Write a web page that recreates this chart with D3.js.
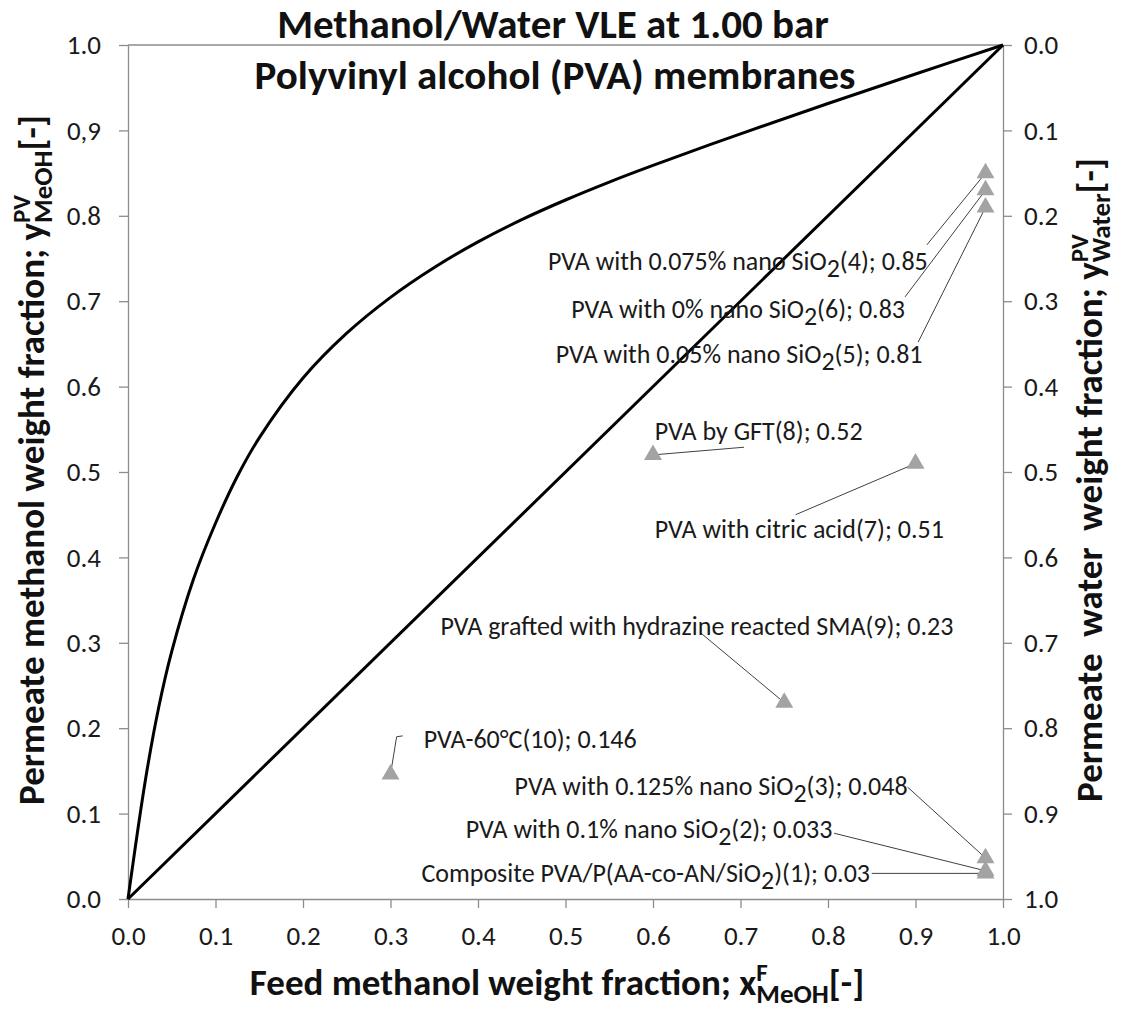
<!DOCTYPE html>
<html>
<head>
<meta charset="utf-8">
<script src="https://cdn.jsdelivr.net/npm/d3@7"></script>
<style>
  body { margin: 0; background: #fff; }
  svg { font-family: Carlito, Lato, sans-serif; }
</style>
</head>
<body>
<svg id="chart" width="1122" height="1014"></svg>
<script>
// VLE curve (weight fractions)
var vleX = [0, 0.02, 0.035, 0.05, 0.075, 0.1, 0.125, 0.15, 0.2, 0.25, 0.3, 0.35, 0.4, 0.45, 0.5, 0.55, 0.6, 0.7, 0.8, 0.9, 1.0];
var vleY = [0, 0.14, 0.224, 0.29, 0.375, 0.44, 0.495, 0.54, 0.61, 0.6625, 0.7045, 0.7395, 0.7695, 0.7955, 0.8185, 0.8395, 0.859, 0.896, 0.9315, 0.966, 1.0];

// membranes
var memNames = [
  "Composite PVA/P(AA-co-AN/SiO|2|)(1); 0.03",
  "PVA with 0.1% nano SiO|2|(2); 0.033",
  "PVA with 0.125% nano SiO|2|(3); 0.048",
  "PVA with 0.075% nano SiO|2|(4); 0.85",
  "PVA with 0.05% nano SiO|2|(5); 0.81",
  "PVA with 0% nano SiO|2|(6); 0.83",
  "PVA with citric acid(7); 0.51",
  "PVA by GFT(8); 0.52",
  "PVA grafted with hydrazine reacted SMA(9); 0.23",
  "PVA-60°C(10); 0.146"
];
var memX = [0.98, 0.98, 0.98, 0.98, 0.98, 0.98, 0.90, 0.60, 0.75, 0.30];
var memY = [0.03, 0.033, 0.048, 0.85, 0.81, 0.83, 0.51, 0.52, 0.23, 0.146];

// where each label sits (data units) and where its leader starts
var labAnchor = ["end", "end", "end", "end", "end", "end", "start", "start", "start", "start"];
var labX = [0.848, 0.805, 0.891, 0.914, 0.908, 0.888, 0.602, 0.602, 0.357, 0.338];
var labY = [0.02, 0.071, 0.122, 0.737, 0.628, 0.680, 0.423, 0.538, 0.309, 0.177];
var leadX = [0.850, 0.807, 0.891, 0.913, 0.903, 0.888, 0.763, 0.704, 0.654, 0.314];
var leadY = [0.03, 0.077, 0.131, 0.766, 0.652, 0.705, 0.450, 0.529, 0.312, 0.191];
// short elbow on the leader of label (10)
var bendX = [null, null, null, null, null, null, null, null, null, 0.307];
var bendY = [null, null, null, null, null, null, null, null, null, 0.190];

var tickVals = [0, 0.1, 0.2, 0.3, 0.4, 0.5, 0.6, 0.7, 0.8, 0.9, 1.0];
var leftTickLabels = ["0.0", "0.1", "0.2", "0.3", "0.4", "0.5", "0.6", "0.7", "0.8", "0,9", "1.0"];
var tickLabels = ["0.0", "0.1", "0.2", "0.3", "0.4", "0.5", "0.6", "0.7", "0.8", "0.9", "1.0"];

var svg = d3.select("#chart");
var plotL = 128, plotR = 1003, plotT = 45, plotB = 899;

var x = d3.scaleLinear().domain([0, 1]).range([plotL, plotR]);
var y = d3.scaleLinear().domain([0, 1]).range([plotB, plotT]);
var yR = d3.scaleLinear().domain([0, 1]).range([plotT, plotB]);

var axisCol = "#8c8c8c";

function styleAxis(g) {
  g.selectAll(".domain").attr("stroke", axisCol).attr("stroke-width", 1.3);
  g.selectAll(".tick line").attr("stroke", axisCol).attr("stroke-width", 1.3);
  g.selectAll(".tick text").attr("fill", "#1a1a1a").style("font-size", "27px")
    .style("font-family", "Carlito, Lato, sans-serif");
}

svg.append("g")
  .attr("transform", "translate(0," + plotB + ")")
  .call(d3.axisBottom(x).tickValues(tickVals).tickSize(9).tickSizeOuter(0).tickPadding(18)
    .tickFormat(function (d, i) { return tickLabels[i]; }))
  .call(styleAxis);

svg.append("g")
  .attr("transform", "translate(" + plotL + ",0)")
  .call(d3.axisLeft(y).tickValues(tickVals).tickSize(9).tickSizeOuter(0).tickPadding(18)
    .tickFormat(function (d, i) { return leftTickLabels[i]; }))
  .call(styleAxis);

svg.append("g")
  .attr("transform", "translate(" + plotR + ",0)")
  .call(d3.axisRight(yR).tickValues(tickVals).tickSize(9).tickSizeOuter(0).tickPadding(12)
    .tickFormat(function (d, i) { return tickLabels[i]; }))
  .call(styleAxis);

// top border
svg.append("line")
  .attr("x1", x(0)).attr("x2", x(1)).attr("y1", y(1)).attr("y2", y(1))
  .attr("stroke", axisCol).attr("stroke-width", 1.3);

// curves
var vle = vleX.map(function (v, i) { return [v, vleY[i]]; });
var line = d3.line().x(function (d) { return x(d[0]); }).y(function (d) { return y(d[1]); });

svg.append("path")
  .datum(vle)
  .attr("d", line.curve(d3.curveCatmullRom.alpha(0.5)))
  .attr("fill", "none").attr("stroke", "#000").attr("stroke-width", 3);

svg.append("path")
  .datum([[0, 0], [1, 1]])
  .attr("d", d3.line().x(function (d) { return x(d[0]); }).y(function (d) { return y(d[1]); }))
  .attr("fill", "none").attr("stroke", "#000").attr("stroke-width", 3);

// leaders
var leader = d3.line().x(function (d) { return x(d[0]); }).y(function (d) { return y(d[1]); });
svg.append("g").selectAll("path")
  .data(memX.map(function (d, i) {
    var pts = [[leadX[i], leadY[i]]];
    if (bendX[i] !== null) pts.push([bendX[i], bendY[i]]);
    pts.push([memX[i], memY[i]]);
    return pts;
  }))
  .join("path")
  .attr("d", leader)
  .attr("fill", "none")
  .attr("stroke", "#404040").attr("stroke-width", 1);

// triangles
var tri = d3.symbol().type(d3.symbolTriangle).size(140);
svg.append("g").selectAll("path")
  .data(memX)
  .join("path")
  .attr("d", tri)
  .attr("transform", function (d, i) { return "translate(" + x(memX[i]) + "," + y(memY[i]) + ")"; })
  .attr("fill", "#a3a3a3");

// labels, "|2|" marks a subscript
var labels = svg.append("g").style("font-size", "26px").attr("fill", "#1a1a1a");
memNames.forEach(function (name, i) {
  var t = labels.append("text")
    .attr("x", x(labX[i])).attr("y", y(labY[i]))
    .attr("text-anchor", labAnchor[i]);
  var parts = name.split("|");
  parts.forEach(function (p, k) {
    if (k === 1) {
      t.append("tspan").attr("dy", 7).text(p);
    } else if (k === 2) {
      t.append("tspan").attr("dy", -7).text(p);
    } else {
      t.append("tspan").text(p);
    }
  });
});

// titles
var title = svg.append("g").attr("text-anchor", "middle").style("font-weight", "bold")
  .style("font-size", "41px").attr("fill", "#111");
title.append("text").attr("x", 553).attr("y", 38).text("Methanol/Water VLE at 1.00 bar");
title.append("text").attr("x", 555).attr("y", 89).text("Polyvinyl alcohol (PVA) membranes");

// axis titles with stacked super/subscript
function axisTitle(g, base, sup, sub) {
  var t = g.append("text").attr("text-anchor", "middle");
  t.append("tspan").text(base);
  var s = t.append("tspan").style("font-size", "25px").attr("dy", -14).text(sup);
  var w = s.node().getComputedTextLength();
  t.append("tspan").style("font-size", "27px").attr("dx", -w).attr("dy", 22).text(sub);
  t.append("tspan").attr("dy", -8).text("[-]");
  return t;
}

var xt = svg.append("g").attr("transform", "translate(557,995)")
  .style("font-weight", "bold").style("font-size", "37px").attr("fill", "#111");
axisTitle(xt, "Feed methanol weight fraction; x", "F", "MeOH");

var ylt = svg.append("g").attr("transform", "translate(44,460) rotate(-90)")
  .style("font-weight", "bold").style("font-size", "37px").attr("fill", "#111");
axisTitle(ylt, "Permeate methanol weight fraction; y", "PV", "MeOH");

var yrt = svg.append("g").attr("transform", "translate(1102,480) rotate(-90)")
  .style("font-weight", "bold").style("font-size", "37px").attr("fill", "#111");
axisTitle(yrt, "Permeate  water  weight fraction; y", "PV", "Water")
  .style("white-space", "pre");
</script>
</body>
</html>
